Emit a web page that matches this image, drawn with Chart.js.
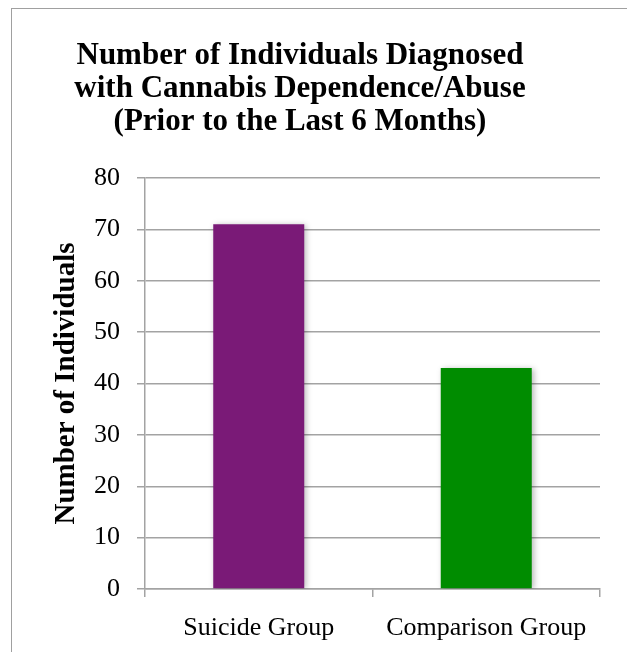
<!DOCTYPE html>
<html>
<head>
<meta charset="utf-8">
<script src="https://cdn.jsdelivr.net/npm/chart.js@4/dist/chart.umd.min.js"></script>
<style>
  html, body { margin: 0; padding: 0; background: #fff; overflow: hidden; }
  #wrap { position: relative; width: 627px; height: 652px; }
  #frame { position: absolute; left: 11px; top: 8px; width: 700px; height: 700px; border: 1.5px solid #a0a0a0; box-sizing: border-box; }
  canvas { position: absolute; left: 0; top: 0; }
</style>
</head>
<body>
<div id="wrap">
  <div id="frame"></div>
  <canvas id="c" width="627" height="652"></canvas>
</div>
<script>
const titleLines = ["Number of Individuals Diagnosed", "with Cannabis Dependence/Abuse", "(Prior to the Last 6 Months)"];
const categories = ["Suicide Group", "Comparison Group"];
const values = [71, 43];
const barColors = ["#7a1a77", "#008c00"];
const yAxisTitle = "Number of Individuals";
const yMin = 0, yMax = 80, yStep = 10;

const SERIF = "'Liberation Serif', 'Times New Roman', serif";
const GRID = "#a3a3a3";

const shadowPlugin = {
  id: 'barShadow',
  beforeDatasetsDraw(chart) {
    const ctx = chart.ctx;
    ctx.save();
    ctx.shadowColor = 'rgba(0,0,0,0.28)';
    ctx.shadowBlur = 6;
    ctx.shadowOffsetX = 2;
    ctx.shadowOffsetY = 1;
  },
  afterDatasetsDraw(chart) { chart.ctx.restore(); }
};

new Chart(document.getElementById('c'), {
  type: 'bar',
  data: {
    labels: categories,
    datasets: [{ data: values, backgroundColor: barColors, borderWidth: 0, barPercentage: 0.4, categoryPercentage: 1.0 }]
  },
  options: {
    responsive: false,
    animation: false,
    layout: { padding: { left: 0, right: 27, top: 0, bottom: 0 } },
    plugins: {
      legend: { display: false },
      tooltip: { enabled: false },
      title: {
        display: true,
        text: titleLines,
        color: '#000',
        font: { family: SERIF, size: 31, weight: 'bold', lineHeight: 33 / 31 },
        padding: { top: 39, bottom: 40 }
      }
    },
    scales: {
      x: {
        grid: { display: true, drawOnChartArea: false, drawTicks: true, tickLength: 8, color: GRID, lineWidth: 1.5, offset: true },
        border: { display: true, color: GRID, width: 1.5 },
        ticks: { color: '#000', font: { family: SERIF, size: 26 }, padding: 16, maxRotation: 0 },
        afterFit(scale) { scale.height = 63; }
      },
      y: {
        min: yMin, max: yMax,
        grid: { color: GRID, lineWidth: 1.5, drawTicks: true, tickLength: 8 },
        border: { display: true, color: GRID, width: 1.5 },
        ticks: { stepSize: yStep, color: '#000', font: { family: SERIF, size: 26 }, padding: 17 },
        title: {
          display: true, text: yAxisTitle, color: '#000',
          font: { family: SERIF, size: 29, weight: 'bold', lineHeight: 1 },
          padding: { top: 52, bottom: 0 }
        },
        afterFit(scale) { scale.width = 145; }
      }
    }
  },
  plugins: [shadowPlugin]
});
</script>
</body>
</html>
